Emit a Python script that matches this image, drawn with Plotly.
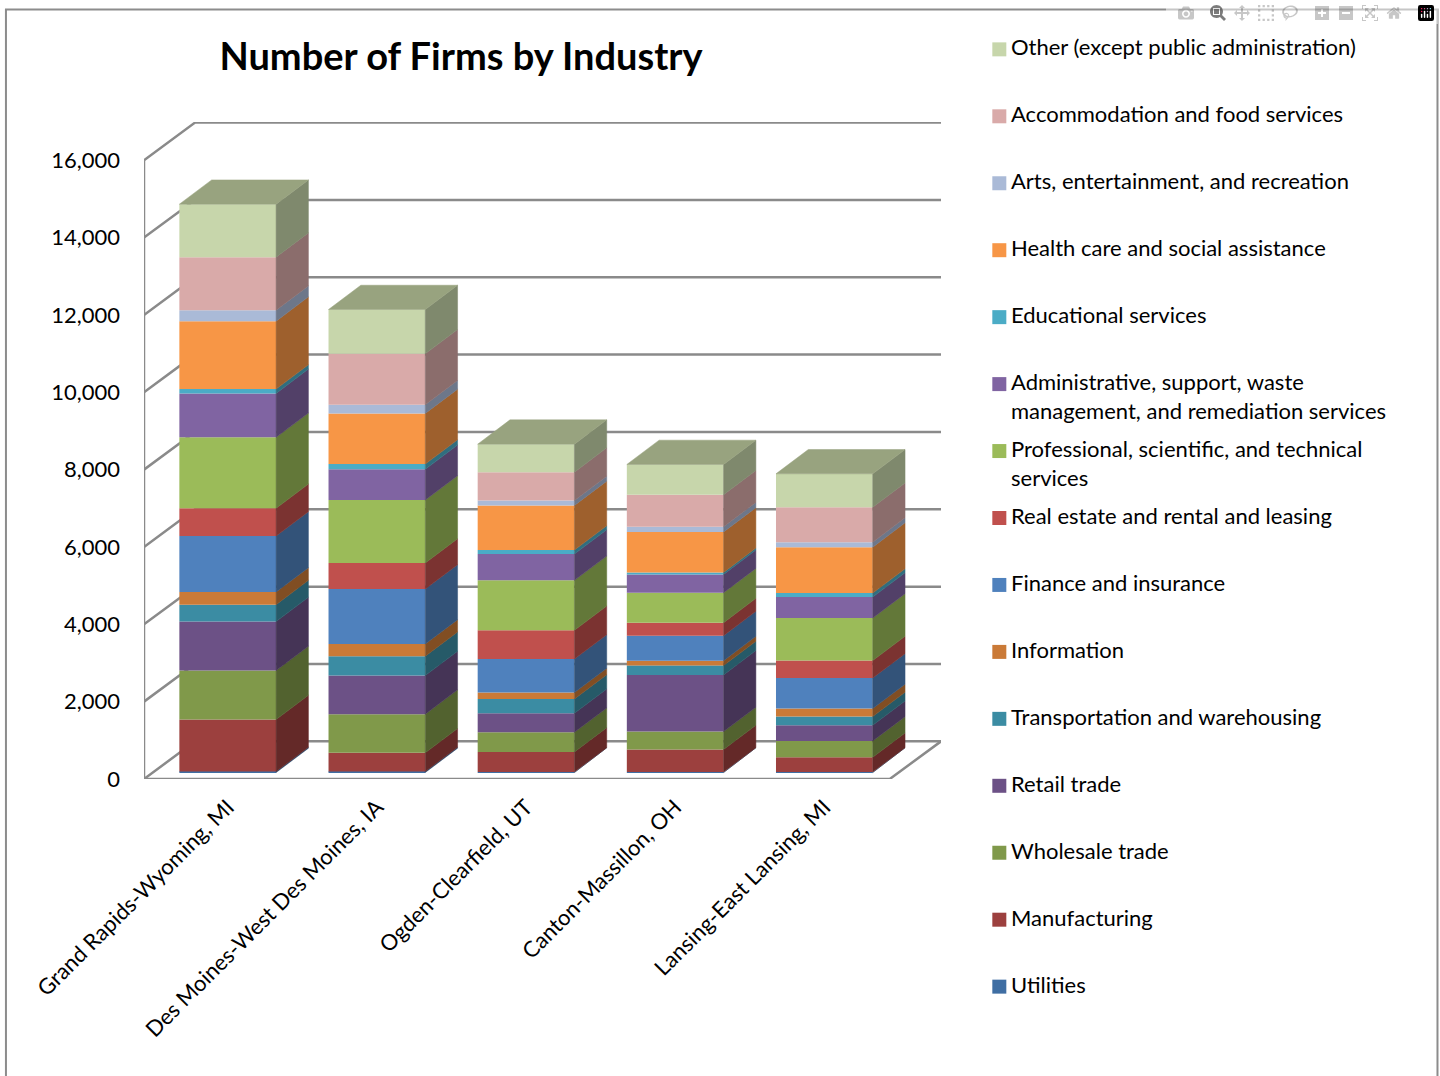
import plotly.graph_objects as go

categories = ["Grand Rapids-Wyoming, MI", "Des Moines-West Des Moines, IA",
              "Ogden-Clearfield, UT", "Canton-Massillon, OH", "Lansing-East Lansing, MI"]
y_ticks = [0, 2000, 4000, 6000, 8000, 10000, 12000, 14000, 16000]

utilities = [26, 26, 13, 13, 13]
manufacturing = [1344, 483, 519, 581, 382]
wholesale = [1266, 1000, 509, 465, 421]
retail = [1266, 997, 491, 1465, 406]
transportation = [439, 501, 370, 240, 225]
information = [328, 318, 165, 129, 207]
finance = [1447, 1421, 868, 646, 791]
real_estate = [716, 672, 742, 336, 450]
professional = [1835, 1628, 1292, 775, 1101]
administrative = [1137, 793, 680, 473, 540]
educational = [111, 137, 103, 52, 103]
health = [1757, 1310, 1155, 1044, 1189]
arts = [284, 222, 129, 137, 129]
accommodation = [1370, 1318, 731, 827, 904]
other = [1370, 1147, 724, 783, 863]

names = ["Utilities", "Manufacturing", "Wholesale trade", "Retail trade",
         "Transportation and warehousing", "Information", "Finance and insurance",
         "Real estate and rental and leasing",
         "Professional, scientific, and technical<br>services",
         "Administrative, support, waste<br>management, and remediation services",
         "Educational services", "Health care and social assistance",
         "Arts, entertainment, and recreation", "Accommodation and food services",
         "Other (except public administration)"]
values = [utilities, manufacturing, wholesale, retail, transportation, information,
          finance, real_estate, professional, administrative, educational, health,
          arts, accommodation, other]
colors = ["#3f6ea3", "#9c403e", "#80994a", "#6c5186", "#3b8ca3", "#ca7a37", "#4f81bd",
          "#c0504d", "#9bbb59", "#8064a2", "#4bacc6", "#f79646", "#aabad7", "#d9aaa9", "#c7d6ab"]

FONT = "Lato"
GREY = "#8a8a8a"
# page geometry
L, R, T, B = 144.0, 940.7, 121.7, 779.2
PITCH = 149.1
X0 = 227.7
PX_PER_UNIT = 0.0387
BAR_W = 96.7 / PITCH
SIDE_DX, SIDE_DY = 32.3 / PITCH, 24.3 / PX_PER_UNIT
BASE = 6.5 / PX_PER_UNIT
WALL_DX, WALL_DY = 51 / PITCH, 37.7 / PX_PER_UNIT
x_lo, x_hi = (L - X0) / PITCH, (R - X0) / PITCH
floor_right = (889.5 - X0) / PITCH


def shade(hex_color, f):
    r, g, b = int(hex_color[1:3], 16), int(hex_color[3:5], 16), int(hex_color[5:7], 16)
    return f"rgb({r*f:.0f},{g*f:.0f},{b*f:.0f})"


def px(x):
    return (x - L) / (R - L)


def py(y):
    return (B - y) / (B - T)


fig = go.Figure()
positions = list(range(len(categories)))
half = BAR_W / 2

# front faces and side faces of the stacked columns
running = [BASE] * len(categories)
for name, vals, col in zip(names, values, colors):
    fig.add_trace(go.Bar(x=positions, y=vals, base=list(running), width=BAR_W,
                         marker=dict(color=col, line=dict(width=0)),
                         name=name.replace("<br>", " "), showlegend=False))
    sx, sy = [], []
    for i, v in enumerate(vals):
        r = i + half
        b, t = running[i], running[i] + v
        sx += [r, r + SIDE_DX, r + SIDE_DX, r, r, None]
        sy += [b, b + SIDE_DY, t + SIDE_DY, t, b, None]
        running[i] = t
    fig.add_trace(go.Scatter(x=sx, y=sy, mode="lines", fill="toself", fillcolor=shade(col, 0.64),
                             line=dict(width=0.5, color=shade(col, 0.64)), hoverinfo="skip",
                             showlegend=False))

# top caps
tx, ty = [], []
for i, t in enumerate(running):
    tx += [i - half, i + half, i + half + SIDE_DX, i - half + SIDE_DX, i - half, None]
    ty += [t, t, t + SIDE_DY, t + SIDE_DY, t, None]
fig.add_trace(go.Scatter(x=tx, y=ty, mode="lines", fill="toself", fillcolor="#98a37f",
                         line=dict(width=0.5, color="#98a37f"), hoverinfo="skip", showlegend=False))

shapes = []
line = dict(color=GREY, width=2.5)
# walls, gridlines and floor, behind the columns
for v in y_ticks:
    shapes.append(dict(type="path", xref="x", yref="y", layer="below", line=line,
                       path=f"M{x_lo},{v} L{x_lo+WALL_DX},{v+WALL_DY} L{x_hi},{v+WALL_DY}"))
shapes.append(dict(type="path", xref="x", yref="y", layer="below", line=line,
                   path=f"M{x_lo},{y_ticks[0]} L{x_lo},{y_ticks[-1]}"))
shapes.append(dict(type="path", xref="x", yref="y", layer="below", line=line,
                   path=f"M{x_lo},0 L{floor_right},0 L{x_hi},{WALL_DY}"))
# outer frame
shapes.append(dict(type="rect", xref="paper", yref="paper", layer="below",
                   x0=px(6), x1=px(1437), y0=py(1100), y1=py(9),
                   line=dict(color="#8c8c8c", width=2)))

# legend
annotations = []
for i, (name, col) in enumerate(zip(names[::-1], colors[::-1])):
    cy = 49 + 67 * i
    shapes.append(dict(type="rect", xref="paper", yref="paper", x0=px(992), x1=px(1006),
                       y0=py(cy + 7), y1=py(cy - 7), fillcolor=col, line=dict(width=0)))
    annotations.append(dict(text=name, xref="paper", yref="paper", x=px(1011), y=py(cy - 16),
                            xanchor="left", yanchor="top", align="left", showarrow=False,
                            font=dict(family=FONT, size=22, color="#000000"),
                            borderpad=0, borderwidth=0))

fig.update_layout(
    width=1440, height=1076, autosize=False, barmode="overlay",
    paper_bgcolor="white", plot_bgcolor="white", showlegend=False,
    margin=dict(l=L, r=1440 - R, t=T, b=1076 - B, pad=0),
    title=dict(text="<b>Number of Firms by Industry</b>", x=461 / 1440, xanchor="center",
               y=1 - 57 / 1076, yanchor="middle",
               font=dict(family=FONT, size=38, color="#000000")),
    xaxis=dict(range=[x_lo, x_hi], tickmode="array", tickvals=positions, ticktext=categories,
               tickangle=-45, showgrid=False, zeroline=False, showline=False, ticks="",
               tickfont=dict(family=FONT, size=22, color="#000000"), ticklabelstandoff=10),
    yaxis=dict(range=[0, (B - T) / PX_PER_UNIT], tickmode="array", tickvals=y_ticks,
               tickformat=",", showgrid=False, zeroline=False, showline=False, ticks="",
               tickfont=dict(family=FONT, size=22, color="#000000"), ticklabelstandoff=23),
    shapes=shapes, annotations=annotations,
)
for tr in fig.data:
    if tr.type == "scatter":
        tr.cliponaxis = False

fig.write_html("out.html", post_script="document.body.style.margin='0';document.body.style.overflow='hidden';")
